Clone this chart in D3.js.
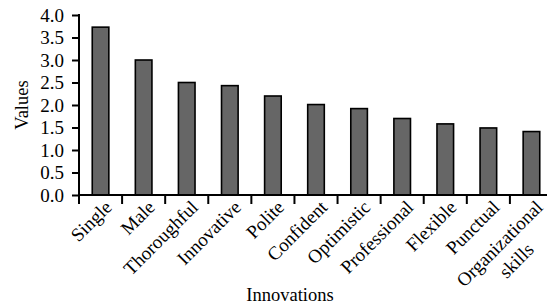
<!DOCTYPE html>
<html>
<head>
  <meta charset="UTF-8">
  <style>
      body{ margin: 0; background: #fff; }
      svg{ display: block; font-family: "Liberation Serif", "Times New Roman", serif; }
  </style>
</head>
<body>
<svg></svg>
<script src="https://d3js.org/d3.v7.min.js"></script>

<script>

let width = 547, height = 307;

// data
let categories = ["Single", "Male", "Thoroughful", "Innovative", "Polite", "Confident",
                  "Optimistic", "Professional", "Flexible", "Punctual", "Organizational skills"];
let values = [3.73, 3.0, 2.5, 2.43, 2.2, 2.01, 1.92, 1.7, 1.58, 1.49, 1.41];
let yTicks = [0, 0.5, 1.0, 1.5, 2.0, 2.5, 3.0, 3.5, 4.0];

let data = categories.map((c, i) => ({name: c, value: values[i]}));

let margin = {left: 79, top: 15, bottom: 195};

let svg = d3.select("svg")
    .attr("width", width)
    .attr("height", height);

let x = d3.scaleBand()
    .domain(categories)
    .range([margin.left, 553])
    .paddingInner(0.58)
    .paddingOuter(0.29);

let y = d3.scaleLinear()
    .domain([0, 4])
    .range([margin.bottom, margin.top]);

// bars
svg.append("g")
    .selectAll("rect")
    .data(data)
  .enter()
    .append("rect")
    .attr("x", d => x(d.name) + 0.75)
    .attr("y", d => y(d.value))
    .attr("width", x.bandwidth() - 1.5)
    .attr("height", d => y(0) - y(d.value))
    .attr("fill", "#666666")
    .attr("stroke", "#000")
    .attr("stroke-width", 1.6);

// y axis
let yAxis = svg.append("g")
    .attr("transform", "translate(" + margin.left + ",0)")
    .call(d3.axisLeft(y).tickValues(yTicks).tickFormat(d3.format(".1f")).tickSize(7).tickSizeOuter(0));

yAxis.select(".domain").remove();
yAxis.append("line")
    .attr("x1", 0).attr("x2", 0)
    .attr("y1", margin.top - 1).attr("y2", margin.bottom + 9)
    .attr("stroke", "#000").attr("stroke-width", 2);
yAxis.selectAll(".tick line").attr("stroke-width", 2);
yAxis.selectAll(".tick text")
    .attr("x", -15)
    .style("font-family", "Liberation Serif")
    .style("font-size", "19px")
    .attr("fill", "#000");

// x axis: line with ticks at band boundaries
let step = x.step();
let bounds = d3.range(1, categories.length + 1).map(i => margin.left + i * step);

let xAxis = svg.append("g");
xAxis.append("line")
    .attr("x1", margin.left).attr("x2", width)
    .attr("y1", y(0)).attr("y2", y(0))
    .attr("stroke", "#000").attr("stroke-width", 2);
xAxis.selectAll("line.tk")
    .data(bounds)
  .enter()
    .append("line")
    .attr("class", "tk")
    .attr("x1", d => d).attr("x2", d => d)
    .attr("y1", y(0)).attr("y2", y(0) + 9)
    .attr("stroke", "#000").attr("stroke-width", 2);

// rotated category labels
let labels = xAxis.selectAll("g.lbl")
    .data(data)
  .enter()
    .append("g")
    .attr("class", "lbl")
    .attr("transform", d => "translate(" + (x(d.name) + x.bandwidth() / 2 + 3) + "," + (y(0) + 4) + ") rotate(-45)");

labels.each(function(d) {
    let g = d3.select(this);
    let words = d.name === "Organizational skills" ? ["Organizational", "skills"] : [d.name];
    let first = g.append("text")
        .attr("text-anchor", "end")
        .attr("dy", "0.7em")
        .style("font-size", "19px")
        .text(words[0]);
    if (words.length > 1) {
        let w = first.node().getComputedTextLength();
        g.append("text")
            .attr("text-anchor", "middle")
            .attr("x", -w / 2)
            .attr("dy", "1.95em")
            .style("font-size", "19px")
            .text(words[1]);
    }
});

// axis titles
svg.append("text")
    .attr("x", 290)
    .attr("y", 301)
    .attr("text-anchor", "middle")
    .style("font-size", "18.5px")
    .text("Innovations");

svg.append("text")
    .attr("transform", "translate(28,105) rotate(-90)")
    .attr("text-anchor", "middle")
    .style("font-size", "18.5px")
    .text("Values");

</script>

</body>
</html>
